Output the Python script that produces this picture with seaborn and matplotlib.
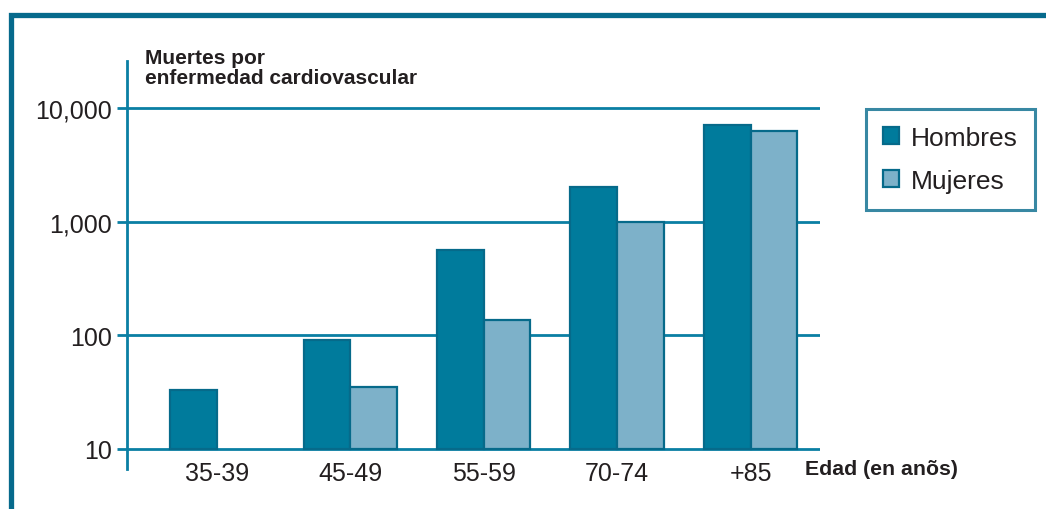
import numpy as np
import pandas as pd
import matplotlib
matplotlib.use("Agg")
import matplotlib.pyplot as plt
from matplotlib.patches import Patch, Rectangle
import seaborn as sns

# ---- data ----
age_groups = ["35-39", "45-49", "55-59", "70-74", "+85"]
hombres = [33, 91, 570, 2030, 7150]
mujeres = [np.nan, 35, 137, 1000, 6300]
series_names = ["Hombres", "Mujeres"]
y_ticks = [10, 100, 1000, 10000]
y_tick_labels = ["10", "100", "1,000", "10,000"]
baseline_value = 10

df = pd.DataFrame({
    "edad": age_groups * 2,
    "sexo": [series_names[0]] * len(age_groups) + [series_names[1]] * len(age_groups),
    "muertes": hombres + mujeres,
})

sns.set_theme(style="white")
plt.rcParams["font.family"] = ["Liberation Sans", "DejaVu Sans"]

TEAL = "#0a7fa3"
FRAME = "#066a8c"
EDGE = "#066a8a"
DARK = "#007b9c"
LIGHT = "#7db1c9"
TXT = "#231f20"

W, H = 1046, 510
fig = plt.figure(figsize=(W / 100, H / 100), dpi=100)
fig.patch.set_facecolor("white")

ax = fig.add_axes([127 / W, (H - 470) / H, (820 - 127) / W, (470 - 62) / H])

sns.barplot(data=df, x="edad", y="muertes", hue="sexo", order=age_groups,
            hue_order=series_names, palette=[DARK, LIGHT], width=0.7, gap=0,
            edgecolor=EDGE, linewidth=1.6, saturation=1, log_scale=True,
            legend=False, ax=ax, zorder=3)

# bars rise from the 10 baseline line
for p in ax.patches:
    top = p.get_y() + p.get_height()
    if np.isfinite(top) and top > baseline_value:
        p.set_y(baseline_value)
        p.set_height(top - baseline_value)

ax.set_yscale("log")
ax.set_ylim(6.66, 26210)
ax.set_xlim(-0.674, 4.52)
ax.set_yticks(y_ticks)
ax.set_yticklabels(y_tick_labels)
ax.yaxis.set_minor_locator(matplotlib.ticker.NullLocator())
ax.set_xlabel("")
ax.set_ylabel("")

for yv in y_ticks:
    ax.axhline(yv, color=TEAL, lw=2.0, zorder=2)

for s in ["top", "right", "bottom"]:
    ax.spines[s].set_visible(False)
ax.spines["left"].set_color(TEAL)
ax.spines["left"].set_linewidth(2.0)

ax.tick_params(axis="y", which="major", length=7, width=2.0, color=TEAL,
               direction="out", pad=4, labelsize=18, labelcolor=TXT, left=True)
ax.tick_params(axis="x", length=0, pad=-6, labelsize=18, labelcolor=TXT)

# axis title texts
fig.text(145 / W, (H - 64) / H, "Muertes por", fontsize=15, fontweight="bold",
         color=TXT, ha="left", va="baseline")
fig.text(145 / W, (H - 84) / H, "enfermedad cardiovascular", fontsize=15,
         fontweight="bold", color=TXT, ha="left", va="baseline")
fig.text(805 / W, (H - 475) / H, "Edad (en anõs)", fontsize=15.3, fontweight="bold",
         color=TXT, ha="left", va="baseline")

# legend
handles = [Patch(facecolor=DARK, edgecolor=EDGE, linewidth=1.6, label=series_names[0]),
           Patch(facecolor=LIGHT, edgecolor=EDGE, linewidth=1.6, label=series_names[1])]
leg = fig.legend(handles=handles, loc="upper left",
                 bbox_to_anchor=(866 / W, (H - 110) / H), bbox_transform=fig.transFigure,
                 fontsize=19, frameon=True, fancybox=False, borderaxespad=0,
                 handlelength=0.6, handleheight=0.6, handletextpad=0.45,
                 borderpad=0.65, labelspacing=0.72, labelcolor=TXT)
leg.get_frame().set_edgecolor(FRAME)
leg.get_frame().set_linewidth(2.2)

# outer frame
fig.add_artist(Rectangle((10.5 / W, -0.2), 1.5, (H - 16) / H + 0.2,
                         transform=fig.transFigure, fill=False,
                         edgecolor=FRAME, linewidth=3.8, clip_on=False))

fig.savefig("out.png", dpi=100, facecolor="white")
